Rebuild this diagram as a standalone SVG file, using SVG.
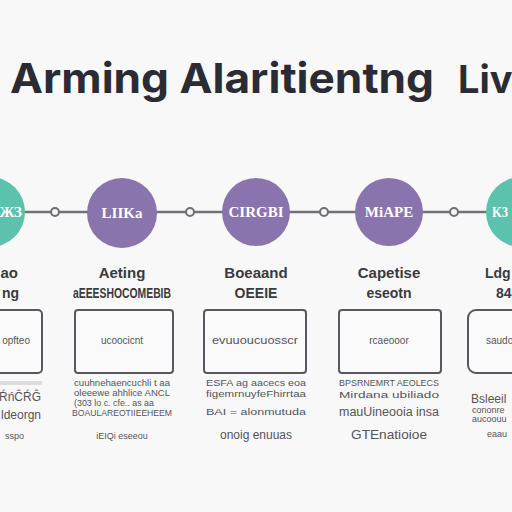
<svg xmlns="http://www.w3.org/2000/svg" width="512" height="512" viewBox="0 0 512 512">
<style>
.title{font-family:Inter,"Liberation Sans",sans-serif;font-weight:700;font-size:41px;fill:#2b2b33}
.ct{font-family:"Liberation Serif",serif;font-weight:700;font-size:15px;fill:#fff;text-anchor:middle}
.l1{font-family:"Liberation Sans",sans-serif;font-weight:700;font-size:15px;fill:#3a3a3f;text-anchor:middle}
.l2{font-family:"Liberation Sans",sans-serif;font-weight:700;font-size:14px;fill:#3a3a3f;text-anchor:middle}
.box{fill:#fafafa;stroke:#58585e;stroke-width:2}
.bt{font-family:"Liberation Sans",sans-serif;font-size:10px;fill:#55555a;text-anchor:middle}
.d{font-family:"Liberation Sans",sans-serif;font-size:9px;fill:#55555a;text-anchor:middle}
.db{font-family:"Liberation Sans",sans-serif;font-size:12px;fill:#55555a;text-anchor:middle}
.e{text-anchor:end}
.s{text-anchor:start}
.teal{fill:#5cc2ae}
.purple{fill:#8a74ad}
.dot{fill:#f4f4f4;stroke:#6e6e74;stroke-width:2}
</style>
<rect width="512" height="512" fill="#f8f8f8"/>
<text class="title" x="10" y="93" textLength="424" lengthAdjust="spacingAndGlyphs">Arming Alaritientng</text>
<text class="title" x="458" y="93" style="font-size:38px">Liv</text>
<g id="connectors">
<line x1="0" y1="212" x2="512" y2="212" stroke="#717177" stroke-width="2.5"/>
<circle class="dot" cx="55" cy="212" r="4"/>
<circle class="dot" cx="190" cy="212" r="4"/>
<circle class="dot" cx="324" cy="212" r="4"/>
<circle class="dot" cx="454" cy="212" r="4"/>
</g>
<g id="node1">
<circle class="teal" cx="-10" cy="212" r="35"/>
<text class="ct e" x="22" y="217">ЖЗ</text>
<text class="l1 e" x="18" y="278">ao</text>
<text class="l2 e" x="19" y="298">ng</text>
<rect class="box" x="-10" y="310" width="52" height="63" rx="4"/>
<text class="bt e" x="30" y="344">opfteo</text>
<rect x="0" y="381" width="42" height="4" fill="#dcdcdc"/>
<text class="db e" x="41" y="401">ŔńĈŔĜ</text>
<text class="db e" x="41" y="419">ldeorgn</text>
<text class="d e" x="24" y="439">sspo</text>
</g>
<g id="node2">
<circle class="purple" cx="122" cy="213" r="35"/>
<text class="ct" x="122" y="218">LIIKa</text>
<text class="l1" x="122" y="278">Aeting</text>
<text class="l2" x="122" y="298" textLength="98" lengthAdjust="spacingAndGlyphs">aEEESHOCOMEBIB</text>
<rect class="box" x="75" y="310" width="98" height="63" rx="3"/>
<text class="bt" x="122" y="344">ucoocicnt</text>
<text class="d" x="122" y="386" textLength="96" lengthAdjust="spacingAndGlyphs">cuuhnehaencuchli t aa</text>
<text class="d" x="122" y="396" textLength="96" lengthAdjust="spacingAndGlyphs">oleeewe ahhlice ANCL</text>
<text class="d" x="114" y="406" textLength="80" lengthAdjust="spacingAndGlyphs">(303 lo c. cfe.. as aa</text>
<text class="d" x="122" y="416" textLength="100" lengthAdjust="spacingAndGlyphs">BOAULAREOTIIEEHEEM</text>
<text class="d" x="122" y="439">iEIQi eseeou</text>
</g>
<g id="node3">
<circle class="purple" cx="256" cy="212" r="34"/>
<text class="ct" x="256" y="217">CIRGBI</text>
<text class="l1" x="256" y="278">Boeaand</text>
<text class="l2" x="256" y="298">OEEIE</text>
<rect class="box" x="204" y="310" width="102" height="63" rx="3"/>
<text class="bt" x="255" y="344" textLength="86" lengthAdjust="spacingAndGlyphs">evuuoucuosscr</text>
<text class="d" x="256" y="386" textLength="100" lengthAdjust="spacingAndGlyphs">ESFA ag aacecs eoa</text>
<text class="d" x="256" y="397" textLength="100" lengthAdjust="spacingAndGlyphs">figemrnuyfeFhirrtaa</text>
<text class="d" x="256" y="415" textLength="100" lengthAdjust="spacingAndGlyphs">BAI = alonmutuda</text>
<text class="db" x="256" y="439">onoig enuuas</text>
</g>
<g id="node4">
<circle class="purple" cx="389" cy="212" r="34"/>
<text class="ct" x="389" y="217">MiAPE</text>
<text class="l1" x="389" y="278">Capetise</text>
<text class="l2" x="389" y="298">eseotn</text>
<rect class="box" x="339" y="310" width="102" height="63" rx="3"/>
<text class="bt" x="389" y="344">rcaeooor</text>
<text class="d" x="389" y="386" textLength="100" lengthAdjust="spacingAndGlyphs">BPSRNEMRT AEOLECS</text>
<text class="d" x="389" y="398" textLength="100" lengthAdjust="spacingAndGlyphs">Mirdana ubiliado</text>
<text class="db" x="389" y="416" textLength="100" lengthAdjust="spacingAndGlyphs">mauUineooia insa</text>
<text class="db" x="389" y="439" textLength="76" lengthAdjust="spacingAndGlyphs">GTEnatioioe</text>
</g>
<g id="node5">
<circle class="teal" cx="521" cy="212" r="35"/>
<text class="ct s" x="492" y="217" textLength="16" lengthAdjust="spacingAndGlyphs">K3</text>
<text class="l1 s" x="485" y="278" style="font-size:14px">Ldg</text>
<text class="l2 s" x="496" y="298">84</text>
<rect class="box" x="468" y="310" width="60" height="63" rx="8"/>
<text class="bt s" x="486" y="344">saudo</text>
<text class="db s" x="471" y="403">Bsleeil</text>
<text class="d s" x="472" y="413">cononre</text>
<text class="d s" x="472" y="422">aucoouu</text>
<text class="d s" x="487" y="437">eaau</text>
</g>
</svg>
